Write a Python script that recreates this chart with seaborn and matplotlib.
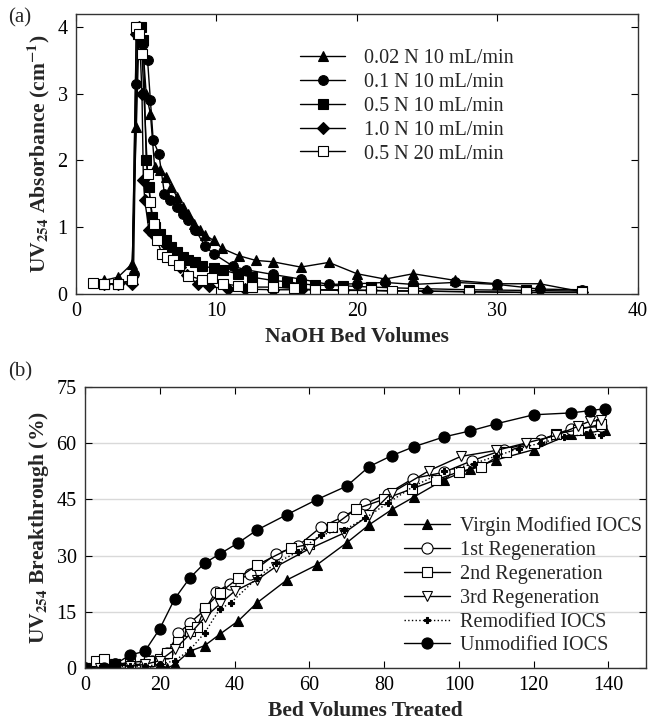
import matplotlib
matplotlib.use("Agg")
import matplotlib.pyplot as plt
import seaborn as sns
import pandas as pd

# ---- panel (a): NaOH regeneration curves ----
a_labels = ["0.02 N 10 mL/min", "0.1 N 10 mL/min", "0.5 N 10 mL/min",
            "1.0 N 10 mL/min", "0.5 N 20 mL/min"]

a1_x = [2, 3, 4, 4.3, 4.5, 4.8, 5.0, 5.3, 5.6, 6.0, 6.4, 6.8, 7.2, 7.6, 8.0, 8.4,
        8.8, 9.2, 9.8, 10.4, 11.6, 12.8, 14, 16, 18, 20, 22, 24, 27, 30, 33, 36]
a1_y = [0.2, 0.25, 0.45, 2.5, 4.0, 3.6, 3.0, 2.7, 1.9, 1.85, 1.75, 1.6, 1.45, 1.3,
        1.2, 1.05, 0.95, 0.88, 0.8, 0.68, 0.57, 0.5, 0.48, 0.4, 0.47, 0.3, 0.22,
        0.3, 0.2, 0.15, 0.15, 0.03]

a2_x = [2, 3, 4, 4.1, 4.3, 4.5, 4.8, 5.1, 5.3, 5.5, 5.9, 6.3, 6.7, 7.2, 7.6, 8.0,
        8.5, 9.2, 9.8, 11.2, 12.1, 14, 16, 18, 20, 22, 24, 27, 30, 33, 36]
a2_y = [0.15, 0.15, 0.2, 0.3, 3.15, 4.0, 3.75, 3.5, 2.9, 2.3, 2.1, 1.5, 1.4, 1.3,
        1.2, 1.1, 0.96, 0.71, 0.6, 0.41, 0.36, 0.29, 0.22, 0.14, 0.15, 0.17, 0.14,
        0.17, 0.14, 0.07, 0.06]

a3_x = [2, 3, 4, 4.4, 4.6, 4.8, 5.0, 5.2, 5.4, 5.6, 6.0, 6.4, 6.8, 7.2, 7.6, 8.0,
        8.5, 9.0, 9.8, 10.5, 11.5, 12.5, 14, 15, 16, 17, 19, 21, 24, 28, 32, 36]
a3_y = [0.15, 0.15, 0.2, 3.9, 4.0, 3.8, 2.0, 1.6, 1.15, 1.0, 0.9, 0.8, 0.7, 0.62,
        0.55, 0.5, 0.47, 0.42, 0.38, 0.35, 0.3, 0.25, 0.2, 0.18, 0.15, 0.13, 0.12,
        0.1, 0.08, 0.06, 0.05, 0.04]

a4_x = [2, 3, 4, 4.3, 4.5, 4.7, 4.8, 4.9, 5.2, 5.5, 5.9, 6.5, 6.9, 7.4, 7.9, 8.7,
        9.5, 10.8, 12, 14, 16, 19, 21, 25, 28, 32, 36]
a4_y = [0.15, 0.15, 0.15, 3.9, 4.0, 3.0, 1.7, 1.4, 0.95, 0.9, 0.85, 0.72, 0.53,
        0.4, 0.28, 0.14, 0.11, 0.07, 0.07, 0.06, 0.06, 0.05, 0.05, 0.04, 0.03,
        0.02, 0.02]

a5_x = [1.2, 2, 3, 4, 4.3, 4.5, 4.7, 5.1, 5.3, 5.55, 5.8, 6.1, 6.5, 6.9, 7.3, 8.0,
        9.0, 9.7, 10.5, 11.5, 12.5, 14, 15.5, 17, 19, 21, 22.5, 24, 28, 32, 36]
a5_y = [0.16, 0.15, 0.15, 0.2, 4.0, 3.9, 3.6, 1.8, 1.37, 1.04, 0.8, 0.6, 0.55,
        0.5, 0.43, 0.27, 0.21, 0.23, 0.15, 0.12, 0.1, 0.1, 0.08, 0.06, 0.06, 0.05,
        0.04, 0.04, 0.03, 0.02, 0.02]

# ---- panel (b): breakthrough curves ----
b_labels = ["Virgin Modified IOCS", "1st Regeneration", "2nd Regeneration",
            "3rd Regeneration", "Remodified IOCS", "Unmodified IOCS"]

b1_x = [0, 4, 8, 12, 16, 20, 22, 24, 28, 32, 36, 41, 46, 54, 62, 70, 76, 82, 88,
        96, 103, 110, 120, 130, 135, 139]
b1_y = [0, 0, 0, 0, 0, 1, 0, 1, 4.5, 6, 9, 12.6, 17.4, 23.5, 27.5, 33.4, 38.2,
        42.2, 45.6, 50.2, 53, 55.5, 58.2, 62.4, 62.7, 63.5]

b2_x = [0, 4, 8, 12, 16, 18, 22, 25, 28, 32, 35, 38.7, 44, 51, 57, 63, 69, 75,
        81, 87.7, 96, 103.6, 112, 122, 130, 138]
b2_y = [0, 0.5, 1, 1, 1, 2, 4, 9.3, 12, 15.5, 20.3, 22.4, 25, 30.4, 32.6, 37.5,
        40.3, 43.8, 46.5, 50.5, 52.2, 55.3, 58.2, 60.8, 63.8, 64.4]

b3_x = [0, 3, 5, 8, 12, 17, 20, 22, 25, 28, 30, 32, 36, 41, 46, 55, 60, 66, 72.5,
        80, 87.5, 94, 100, 106, 112.5, 120, 126, 132, 138]
b3_y = [0, 2, 2.5, 1, 1.5, 2, 2.5, 4, 7, 10, 11, 16, 20, 24, 27.5, 32, 33, 37.6,
        42.4, 45, 47.8, 50.2, 52.3, 53.7, 57.7, 60, 62.4, 63.5, 65]

b4_x = [0, 4, 8, 12, 16, 20, 24, 28, 32, 36, 40, 46, 51, 60, 69.3, 76, 82, 92,
        100.5, 110, 118, 126, 132, 135, 138]
b4_y = [0, 0, 1, 0.5, 1, 2, 5, 9, 13.5, 17, 20.5, 23.5, 27, 31.8, 36, 40.8, 46.7,
        52.6, 56.4, 58, 60, 62, 64.5, 65.8, 66]

b5_x = [0, 4, 8, 12, 16, 20, 24, 28, 32, 36, 39, 46, 51, 57, 63, 69.3, 75, 81,
        88, 96, 104, 110, 116, 122, 128, 134, 138]
b5_y = [0, 0, 0.5, 0.5, 0.5, 1, 2, 4.8, 9.4, 15.7, 17.4, 24, 28, 31, 35.5, 36.8,
        40, 44, 48.5, 52.4, 54.5, 56.5, 58.5, 60, 61.5, 62.3, 62.2]

b6_x = [0, 5, 8, 12, 16, 20, 24, 28, 32, 36, 41, 46, 54, 62, 70, 76, 82, 88, 96,
        103, 110, 120, 130, 135, 139]
b6_y = [0, 0, 1, 3.5, 4.5, 10.5, 18.5, 24, 28, 30.4, 33.4, 36.8, 40.9, 44.9,
        48.5, 53.7, 56.6, 59, 61.6, 63.2, 65.1, 67.5, 68, 68.6, 69.1]

sns.set_style("ticks")
plt.rcParams["font.family"] = ["Liberation Serif", "DejaVu Serif"]
plt.rcParams["mathtext.fontset"] = "stix"

fig = plt.figure(figsize=(6.49, 7.2), dpi=100)
ax1 = fig.add_axes([0.117, 0.592, 0.866, 0.389])
ax2 = fig.add_axes([0.131, 0.072, 0.864, 0.391])

# panel (a)
a_series = [(a1_x, a1_y, "^", "black"), (a2_x, a2_y, "o", "black"),
            (a3_x, a3_y, "s", "black"), (a4_x, a4_y, "D", "black"),
            (a5_x, a5_y, "s", "white")]
for (xs, ys, mk, fc), lab in zip(a_series, a_labels):
    df = pd.DataFrame({"x": xs, "y": ys})
    ms = 7 if mk != "D" else 6
    sns.lineplot(data=df, x="x", y="y", ax=ax1, sort=False, estimator=None,
                 color="black", lw=1.0, marker=mk, markersize=ms,
                 markerfacecolor=fc, markeredgecolor="black",
                 markeredgewidth=0.8, label=lab)

ax1.set_xlim(0, 40)
ax1.set_ylim(0, 4.2)
ax1.set_xticks([0, 10, 20, 30, 40])
ax1.set_yticks([0, 1, 2, 3, 4])
ax1.set_xlabel("NaOH Bed Volumes", fontsize=15.5, fontweight="bold")
ax1.set_ylabel(r"UV$_{\mathbf{254}}$ Absorbance (cm$^{\mathbf{-1}}$)",
               fontsize=15.5, fontweight="bold")
ax1.legend(loc="upper left", bbox_to_anchor=(0.399, 0.875), frameon=False,
           fontsize=14.5, handlelength=2.25, handletextpad=0.9,
           labelspacing=0.24, borderaxespad=0, borderpad=0)

# panel (b)
b_series = [(b1_x, b1_y, "^", "black", "-", 7),
            (b2_x, b2_y, "o", "white", "-", 8),
            (b3_x, b3_y, "s", "white", "-", 7),
            (b4_x, b4_y, "v", "white", "-", 7),
            (b5_x, b5_y, "P", "black", ":", 5),
            (b6_x, b6_y, "o", "black", "-", 8)]
for (xs, ys, mk, fc, ls, ms), lab in zip(b_series, b_labels):
    df = pd.DataFrame({"x": xs, "y": ys})
    sns.lineplot(data=df, x="x", y="y", ax=ax2, sort=False, estimator=None,
                 color="black", lw=1.0, linestyle=ls, marker=mk, markersize=ms,
                 markerfacecolor=fc, markeredgecolor="black",
                 markeredgewidth=0.8, label=lab)

ax2.set_xlim(0, 150)
ax2.set_ylim(0, 75)
ax2.set_xticks([0, 20, 40, 60, 80, 100, 120, 140])
ax2.set_yticks([0, 15, 30, 45, 60, 75])
ax2.yaxis.grid(True, color="#d9d9d9", lw=1.0)
ax2.set_axisbelow(True)
ax2.set_xlabel("Bed Volumes Treated", fontsize=15.5, fontweight="bold")
ax2.set_ylabel(r"UV$_{\mathbf{254}}$ Breakthrough (%)", fontsize=15.5,
               fontweight="bold")
ax2.legend(loc="lower right", bbox_to_anchor=(0.993, 0.045), frameon=False,
           fontsize=14.5, handlelength=2.25, handletextpad=0.5,
           labelspacing=0.24, borderaxespad=0, borderpad=0)

for ax in (ax1, ax2):
    ax.tick_params(direction="in", top=True, right=True, labelsize=14.5,
                   length=5, width=0.8, colors="black", pad=6)
    ax.tick_params(axis="x", labeltop=False)
    ax.tick_params(axis="y", labelright=False)
    for sp in ax.spines.values():
        sp.set_visible(True)
        sp.set_color("#333333")
        sp.set_linewidth(1.0)

fig.text(0.012, 0.975, "(a)", fontsize=15, ha="left", va="center")
fig.text(0.012, 0.483, "(b)", fontsize=15, ha="left", va="center")

fig.savefig("out.png", dpi=100)
